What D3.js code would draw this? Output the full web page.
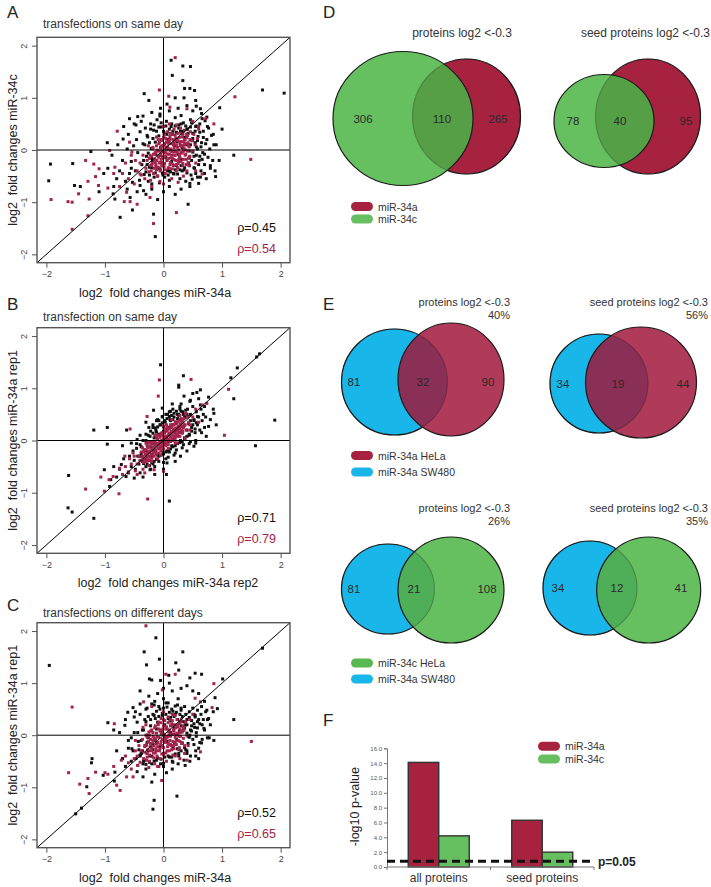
<!DOCTYPE html>
<html><head><meta charset="utf-8">
<script src="https://cdn.jsdelivr.net/npm/d3@7"></script>
<style>
body{margin:0;background:#fff}
svg{display:block}
text{font-family:"Liberation Sans",Arial,Helvetica,sans-serif}
</style>
</head><body>
<svg id="c" width="711" height="887"></svg>
<script>
// ---------- DATA (scatter values in hundredths of log2 units) ----------
const scatterTicks = [-2, -1, 0, 1, 2];
const rhoBlack = [0.45, 0.71, 0.52];
const rhoRed = [0.54, 0.79, 0.65];

const aBlackCore = [[-55,-22],[-51,8],[-48,-40],[-46,20],[-44,-5],[-41,-58],[-40,35],[-37,-28],[-35,12],[-33,-47],[-31,42],[-29,-12],[-27,25],[-26,-60],[-24,-33],[-22,50],[-21,3],[-19,-20],[-17,38],[-16,-52],[-14,15],[-13,-8],[-11,58],[-10,-35],[-8,27],[-7,-63],[-5,5],[-4,44],[-2,-25],[-1,-48],[1,33],[2,12],[4,-14],[5,55],[7,-40],[8,20],[10,-58],[11,0],[13,45],[14,-22],[16,30],[17,-45],[19,8],[20,62],[22,-30],[23,16],[25,-8],[26,48],[28,-55],[29,36],[31,-18],[32,4],[34,52],[35,-38],[37,24],[38,-60],[40,10],[41,40],[43,-25],[44,-2],[46,58],[47,-48],[49,18],[50,32],[52,-12],[53,-35],[55,45],[56,6],[58,-52],[59,26],[61,-20],[62,50],[64,-40],[65,14],[67,-5],[68,36],[70,-28],[71,56],[73,-55],[74,20],[76,-14],[77,42],[79,2],[80,-35],[82,28],[84,-20],[86,10],[-58,-45],[-53,-62],[-47,48],[-20,-65],[30,66],[60,-64],[-6,65],[45,-64],[66,60],[88,-40],[-62,2],[-38,55]];
const aBlackInner = [[-34,-20],[-32,10],[-30,-42],[-28,28],[-26,-6],[-24,-48],[-22,40],[-20,-34],[-18,22],[-16,48],[-14,-44],[-12,36],[-10,-50],[-8,44],[-6,-10],[-4,52],[-2,-44],[0,36],[2,-52],[4,46],[6,30],[8,-48],[10,40],[12,-42],[14,50],[16,36],[18,-46],[20,46],[22,34],[24,-46],[26,42],[28,-38],[30,50],[32,-40],[34,36],[36,-34],[38,46],[40,-44],[42,32],[44,-30],[46,44],[48,-20],[50,22],[52,-34],[54,36],[56,-10],[58,18],[60,-28],[62,34],[64,6],[66,-18],[68,24],[70,-8],[72,12],[46,10],[50,-4],[54,14],[58,2],[62,-12],[-28,-28],[-24,14],[-20,-16],[40,40],[48,52],[56,46],[30,-30],[20,-38],[10,-40],[-6,-36],[36,24],[44,-14]];
const aBlackOut = [[13,172],[33,161],[46,160],[15,143],[33,133],[36,118],[45,118],[53,114],[-33,108],[169,115],[206,109],[96,81],[56,84],[-44,64],[-96,14],[-124,-3],[-193,-27],[-155,-26],[-196,-59],[-152,-68],[-142,-70],[120,-10],[89,-51],[-86,-84],[-83,-94],[-53,-115],[-74,-129],[42,-104],[-14,-166],[-17,-123],[63,-52],[49,-56],[-57,-91],[-34,-78],[-69,21],[6,88],[-6,69],[74,63],[63,79],[-75,-40],[-65,-60],[-60,30],[-70,-20],[-80,-55],[-62,-75],[-45,-80],[-30,-85],[-20,-75],[-10,-95],[0,-80],[10,-70],[20,-85],[30,-75],[45,-70],[55,-45],[70,-45],[80,-30],[90,10],[85,30],[75,45],[65,70],[50,75],[40,85],[25,80],[10,75],[-5,80],[-20,72],[-35,65],[-50,50],[-68,45],[-88,-10],[-95,-35],[-102,-45],[-78,10],[-58,60],[95,-20],[100,40],[-25,95],[35,100],[55,95],[20,100],[-40,-68],[-55,-35],[-85,-70],[-110,-80]];
const aRedCore = [[-30,-35],[-28,-20],[-25,-42],[-23,-10],[-20,-28],[-18,5],[-17,-45],[-15,-18],[-13,-32],[-11,0],[-10,-50],[-8,12],[-7,-25],[-5,-38],[-4,20],[-2,-12],[-1,-30],[1,28],[2,-5],[3,-45],[5,15],[6,-20],[7,35],[8,-8],[10,-35],[11,22],[12,2],[13,-15],[15,30],[16,-28],[17,10],[18,40],[20,-10],[21,18],[22,-40],[24,5],[25,32],[26,-22],[28,12],[29,42],[30,-5],[32,25],[33,-30],[35,15],[36,38],[38,0],[39,-18],[41,28],[43,8],[45,-12],[46,35],[48,18],[50,-2],[52,30],[54,10],[-35,-10],[-32,-55],[-22,-58],[-12,25],[0,45],[10,50],[22,48],[40,-40],[55,-25],[-26,8],[-6,-60],[14,-55],[34,-50],[58,22],[60,40],[4,5],[19,-3],[-3,-2],[27,-12],[-9,-12],[23,22],[9,12],[31,8],[-14,-5],[37,20],[-40,-25],[-45,-40],[-38,-48],[44,-30],[14,-2],[-1,8]];
const aRedInner = [[-22,-30],[-20,-12],[-19,-25],[-18,2],[-16,-35],[-15,-18],[-14,-6],[-13,-28],[-12,8],[-11,-20],[-10,-2],[-9,-33],[-8,-14],[-7,15],[-6,-24],[-5,-8],[-4,4],[-3,-30],[-2,18],[-1,-16],[0,-4],[1,10],[2,-26],[3,-12],[4,22],[5,0],[6,-20],[7,6],[8,-34],[9,14],[10,-8],[11,26],[12,-24],[13,-2],[14,12],[15,-16],[16,20],[17,-30],[18,4],[19,-10],[20,28],[21,-20],[22,10],[23,-4],[24,18],[25,-26],[26,0],[27,24],[28,-14],[29,8],[30,-22],[31,16],[32,-6],[33,30],[34,-18],[35,4],[36,20],[37,-10],[38,12],[39,-28],[40,24],[41,-2],[42,14],[43,-16],[44,6],[-24,-16],[-21,-40],[-17,-8],[-12,-38],[-9,20],[-6,-40],[-3,8],[0,24],[3,-38],[6,16],[9,-16],[12,32],[15,-36],[18,-18],[21,22],[24,-34],[27,-8],[30,32],[33,-26],[36,10],[39,30],[42,-24],[45,20],[-2,-24],[4,-6],[10,18],[16,-4],[22,-28],[28,16],[34,-2],[8,2],[14,-10],[20,-2],[-8,-2],[-4,-18],[26,-18],[32,8],[18,14],[-14,-24],[1,-32],[38,-8],[11,-28]];
const aRedOut = [[20,177],[-7,115],[9,103],[122,102],[149,-18],[-156,-100],[-192,-95],[-163,-99],[-145,-84],[-129,-60],[-116,-51],[-133,-20],[-119,-27],[-110,-36],[-156,-152],[-129,-126],[-127,-94],[-111,-68],[-95,-73],[-79,36],[-67,-99],[-57,-99],[-45,-104],[-63,-81],[-23,-91],[-17,-141],[22,-120],[66,-46],[72,60],[86,50],[40,79],[11,82],[-83,-33],[-92,-1],[-54,-4],[-40,-46],[-60,-55],[-70,-45],[-50,-65],[-55,-10],[-65,-25],[-75,-70],[-85,-45],[-48,-20],[-58,15],[50,55],[60,45],[-20,-70],[0,-65],[25,-62],[55,-40]];

const bBlackCore = [[-55,-50],[-52,-20],[-50,-38],[-48,-55],[-46,-15],[-44,-30],[-42,-45],[-40,-8],[-38,-25],[-36,-40],[-35,0],[-33,-18],[-31,-35],[-30,-50],[-28,-5],[-26,-22],[-25,-38],[-23,8],[-21,-12],[-20,-30],[-18,-45],[-16,5],[-15,-18],[-13,20],[-11,-8],[-10,-28],[-8,12],[-6,-15],[-5,30],[-3,-2],[-1,-22],[0,18],[2,-8],[3,35],[5,5],[6,-20],[8,25],[9,-2],[11,40],[12,12],[14,-10],[15,30],[17,2],[18,45],[20,18],[21,-5],[23,35],[24,10],[26,50],[27,25],[29,0],[30,40],[32,15],[33,55],[35,28],[36,5],[38,45],[40,20],[41,60],[43,32],[44,10],[46,50],[48,25],[50,65],[52,38],[54,15],[56,55],[58,30],[60,45],[62,20],[64,60],[66,38],[68,50],[70,25],[-58,-30],[-45,2],[-30,12],[-12,38],[-2,45],[10,-22],[22,-18],[34,-8],[46,-2],[-22,-55],[-8,-40],[4,-35],[16,60],[28,65],[55,0],[72,45],[-40,-62],[-15,-50],[0,-42],[18,-28],[7,50],[-18,25]];
const bBlackInner = [[-30,0],[-28,-45],[-26,10],[-24,-48],[-22,18],[-20,-42],[-18,14],[-16,-40],[-14,24],[-12,-36],[-10,26],[-8,-30],[-6,30],[-4,-28],[-2,34],[0,-26],[2,38],[4,-22],[6,42],[8,-20],[10,46],[12,-16],[14,48],[16,-12],[18,52],[20,-10],[22,56],[24,-6],[26,48],[28,-4],[30,56],[32,-2],[34,50],[36,4],[38,58],[40,8],[42,46],[44,12],[46,38],[48,18],[50,30],[52,40],[54,22],[56,34],[58,46],[-8,38],[4,50],[16,40],[28,60],[40,50],[-18,30],[-2,46],[12,56],[24,42],[36,44],[-24,-2],[-12,16],[0,26],[12,38],[24,50],[-30,-20],[-34,-44],[8,-32],[20,-24],[32,-14],[44,-6],[-40,-30],[-38,-12]];
const bBlackOut = [[-5,145],[34,124],[26,106],[26,102],[57,92],[159,160],[164,166],[126,139],[115,120],[120,80],[190,39],[157,-10],[-119,20],[-96,25],[-96,-7],[-162,-67],[-163,-129],[-156,-137],[-119,-149],[-101,-56],[-92,-88],[10,-116],[77,83],[86,52],[73,8],[77,27],[-17,58],[-2,62],[-63,20],[-64,-69],[-72,-46],[-46,-6],[6,-43],[29,-30],[52,-11],[63,97],[46,77],[63,68],[-23,-56],[-80,-70],[-75,-55],[-68,-35],[-60,-62],[-55,-5],[-50,-72],[-40,10],[-35,-70],[-25,25],[-15,-65],[-10,40],[0,-55],[10,55],[20,-40],[30,70],[40,-20],[45,75],[55,-5],[60,80],[65,15],[70,65],[80,40],[85,60],[90,30],[-85,-50],[-70,-10],[-90,-75],[15,70],[35,85],[50,90],[-30,35],[5,-65]];
const bRedCore = [[-45,-45],[-42,-30],[-40,-38],[-38,-22],[-36,-32],[-34,-42],[-32,-18],[-30,-28],[-28,-36],[-27,-12],[-25,-22],[-23,-32],[-22,-5],[-20,-16],[-18,-26],[-17,-2],[-15,-12],[-13,-22],[-12,5],[-10,-6],[-8,-16],[-7,10],[-5,-2],[-3,-12],[-2,15],[0,2],[1,-8],[3,18],[4,6],[6,-4],[7,22],[9,10],[10,0],[12,25],[13,14],[15,4],[16,30],[18,18],[19,8],[21,32],[22,22],[24,12],[25,36],[27,26],[28,15],[30,38],[32,28],[33,18],[35,42],[37,30],[39,20],[41,45],[43,35],[-48,-58],[-35,-55],[-20,-40],[-5,-28],[8,-15],[20,-5],[-30,-5],[-15,10],[0,28],[14,40],[28,48],[45,20],[-50,-30],[-25,-48],[-10,-35],[5,30],[38,52]];
const bRedInner = [[-35,-30],[-34,-22],[-33,-36],[-31,-26],[-30,-18],[-29,-32],[-27,-24],[-26,-14],[-25,-30],[-23,-20],[-22,-10],[-21,-26],[-19,-16],[-18,-6],[-17,-22],[-15,-12],[-14,-2],[-13,-18],[-11,-8],[-10,2],[-9,-14],[-7,-4],[-6,6],[-5,-10],[-3,0],[-2,10],[-1,-6],[1,4],[2,14],[3,-2],[5,8],[6,18],[7,2],[9,12],[10,22],[11,6],[13,16],[14,26],[15,10],[17,20],[18,30],[19,14],[21,24],[22,34],[23,18],[25,28],[26,16],[27,22],[29,32],[30,20],[31,26],[33,36],[34,24],[-32,-40],[-28,-10],[-24,-38],[-20,-2],[-16,-30],[-12,6],[-8,-24],[-4,14],[0,-16],[4,22],[8,-8],[12,30],[16,0],[20,36],[24,8],[28,40],[32,14],[-36,-14],[-20,-34],[-4,-20],[12,-2],[28,8],[-12,-26],[4,-10],[20,4],[36,30],[-26,-4],[-10,10],[6,26],[22,10],[-18,-28],[-2,-8],[14,18],[30,42],[-30,-40],[0,8],[10,14],[18,22],[-6,-16],[24,20],[-14,-6],[8,0]];
const bRedOut = [[-7,116],[47,117],[-9,85],[111,98],[104,10],[-28,46],[-57,22],[-133,-93],[-101,-97],[-93,-75],[-76,-102],[-107,-70],[-86,-69],[-27,-112],[0,-59],[-32,-62],[-16,-56],[74,71],[66,68],[-66,-30],[-52,-24],[-75,-53],[-40,-38],[37,4],[23,-5],[-60,-60],[-55,-45],[-65,-50],[-70,-65],[-58,-35],[50,45],[55,60],[60,35],[-45,-65],[45,30]];

const cBlackCore = [[-52,-30],[-50,5],[-47,-45],[-45,25],[-43,-12],[-40,40],[-38,-35],[-36,10],[-34,-50],[-32,30],[-30,-20],[-28,52],[-26,-5],[-24,-40],[-22,18],[-20,60],[-18,-28],[-16,38],[-14,-10],[-12,-48],[-10,25],[-8,55],[-6,-22],[-4,8],[-2,42],[0,-35],[2,20],[4,62],[6,-12],[8,32],[10,-42],[12,5],[14,50],[16,-25],[18,15],[20,40],[22,-8],[24,58],[26,-35],[28,25],[30,48],[32,-15],[34,10],[36,55],[38,-28],[40,30],[42,-2],[44,45],[46,-40],[48,18],[50,52],[52,-18],[54,35],[56,5],[58,48],[60,-25],[62,22],[64,40],[66,-8],[68,30],[70,10],[72,45],[-55,-5],[-48,45],[-35,-55],[-15,65],[-5,-55],[15,-50],[35,-48],[55,-40],[75,30],[-42,-28],[-28,0],[-12,12],[3,-5],[11,28],[19,-15],[27,8],[37,20],[45,0],[53,15],[65,55],[78,-5],[-20,-55],[0,70],[25,70],[-30,50],[-60,-25]];
const cBlackInner = [[-36,-30],[-34,10],[-32,-48],[-30,26],[-28,-14],[-26,36],[-24,-52],[-22,30],[-20,-40],[-18,40],[-16,-50],[-14,32],[-12,46],[-10,-44],[-8,36],[-6,50],[-4,-46],[-2,38],[0,52],[2,-42],[4,40],[6,54],[8,-40],[10,44],[12,34],[14,-42],[16,46],[18,36],[20,-36],[22,44],[24,30],[26,-40],[28,40],[30,-30],[32,36],[34,26],[36,-24],[38,40],[40,20],[42,-16],[44,34],[46,10],[48,28],[50,-8],[52,22],[54,38],[56,-2],[58,14],[60,30],[62,-14],[44,-4],[48,8],[40,4],[36,14],[-38,-10],[-40,-40],[-44,5],[-30,-56],[20,56],[30,52],[-16,58],[8,62],[16,-52],[0,-54],[40,-30],[52,40],[58,26],[66,20],[30,18],[24,-26],[-26,-30]];
const cBlackOut = [[-195,134],[-13,187],[-33,160],[33,160],[-7,146],[21,139],[-29,135],[26,125],[54,119],[65,117],[-20,106],[-24,108],[101,108],[169,167],[120,30],[88,72],[92,51],[77,32],[69,13],[-95,24],[-66,19],[-61,44],[-52,53],[-122,-45],[-123,-53],[-103,-77],[-83,-71],[-84,-88],[-131,-99],[-140,-140],[-150,-151],[-16,-125],[-18,-142],[23,-117],[5,-72],[-54,-26],[-40,-38],[37,-58],[86,-10],[40,-35],[9,115],[74,48],[-80,-30],[-70,-45],[-60,-10],[-75,5],[-65,-60],[-55,-50],[-45,-70],[-30,-65],[-15,-75],[0,-60],[15,-65],[25,-55],[45,-50],[55,-30],[65,-15],[75,-5],[80,20],[70,65],[60,80],[50,85],[40,95],[30,90],[15,85],[0,90],[-10,80],[-25,75],[-40,60],[-50,35],[-65,30],[-85,10],[45,110],[-40,85],[10,100],[-5,105],[85,45],[60,-45],[-35,-80],[-20,-90]];
const cRedCore = [[-45,-40],[-42,-20],[-40,-52],[-38,-30],[-36,-8],[-34,-45],[-32,-22],[-30,0],[-28,-35],[-26,-12],[-24,-50],[-22,8],[-20,-25],[-18,-42],[-16,-5],[-14,18],[-12,-30],[-10,-15],[-8,25],[-6,-45],[-4,2],[-2,-20],[0,30],[2,-8],[4,12],[6,-30],[8,35],[10,0],[12,-18],[14,22],[16,-38],[18,8],[20,38],[22,-10],[24,20],[26,-28],[28,5],[30,30],[32,-15],[34,15],[36,-35],[38,25],[40,0],[-48,-10],[-44,-58],[-30,20],[-15,-55],[0,45],[15,40],[28,-45],[42,-20],[-25,-62],[-8,-60],[5,-50],[-35,15],[45,30],[-5,10],[7,-2],[-18,5],[17,-20],[-11,-3],[23,2]];
const cRedInner = [[-30,-34],[-29,-18],[-28,-4],[-27,-28],[-26,-12],[-25,6],[-24,-38],[-23,-22],[-22,-8],[-21,-30],[-20,10],[-19,-16],[-18,-2],[-17,-34],[-16,-20],[-15,14],[-14,-8],[-13,-26],[-12,4],[-11,-40],[-10,-14],[-9,20],[-8,-4],[-7,-30],[-6,8],[-5,-18],[-4,24],[-3,-36],[-2,-8],[-1,12],[0,-24],[1,2],[2,28],[3,-14],[4,-34],[5,16],[6,-4],[7,-22],[8,24],[9,6],[10,-30],[11,-10],[12,18],[13,-20],[14,2],[15,28],[16,-12],[17,10],[18,-26],[19,20],[20,-4],[21,14],[22,-18],[23,30],[24,4],[25,-10],[26,22],[27,-24],[28,12],[29,-2],[30,26],[31,-16],[32,6],[33,18],[34,-6],[35,10],[-32,-20],[-28,-42],[-24,0],[-20,-24],[-16,-44],[-12,-16],[-8,12],[-4,-12],[0,18],[4,-8],[8,-16],[12,-2],[16,20],[20,-14],[24,16],[28,-12],[-18,-10],[-10,-22],[-2,4],[6,12],[14,-28],[22,2],[30,8],[-6,-26],[2,-2],[10,10],[18,2],[26,-2],[-14,-34],[-22,-16],[0,-38],[12,30],[-4,32],[36,-20]];
const cRedOut = [[-30,210],[-156,54],[-84,22],[4,117],[20,117],[-2,87],[86,99],[150,-12],[-162,-72],[-143,-94],[-129,-83],[-127,-112],[-116,-71],[-100,-72],[-80,-96],[-74,-106],[-63,-80],[-52,-80],[-3,-87],[40,-48],[63,-32],[54,71],[63,64],[83,53],[-34,64],[-29,-48],[-44,-58],[-60,-53],[-72,-48],[-55,-65],[-65,-40],[-50,-45],[-85,-60],[-95,-75],[-48,-30],[50,40],[-20,55],[-10,-60],[20,-40]];

// Venn counts [left only, overlap, right only]
const dCounts = [[306,110,265],[78,40,95]];
const eTopCounts = [[81,32,90],[34,19,44]];
const eBotCounts = [[81,21,108],[34,12,41]];
const eTopPct = ["40%","56%"];
const eBotPct = ["26%","35%"];
const vennTitles = ["proteins log2 <-0.3","seed proteins log2 <-0.3"];

// Bar chart
const fCategories = ["all proteins","seed proteins"];
const fSeries = ["miR-34a","miR-34c"];
const fMiR34a = [14.1, 6.3];
const fMiR34c = [4.2, 2.0];
const fTicks = [0,2,4,6,8,10,12,14,16];
const fThreshold = 0.77;

// ---------- DRAWING ----------
const svg = d3.select("#c");
const RED = "#a3234b", BLK = "#111";
const toUnits = d => [d[0]/100, d[1]/100];
const MS = 3.0;

function letter(t, x, y){
  svg.append("text").attr("x",x).attr("y",y).attr("font-size",17).attr("fill","#222").text(t);
}

function scatter(cfg){
  const x = d3.scaleLinear().domain([-2.16,2.16]).range([37,290]);
  const y = d3.scaleLinear().domain([-2.16,2.16]).range([cfg.bottom,cfg.top]);
  const g = svg.append("g");
  const clipId = "clip"+cfg.letter;
  g.append("clipPath").attr("id",clipId).append("rect")
    .attr("x",37).attr("y",cfg.top).attr("width",253).attr("height",cfg.bottom-cfg.top);
  const pg = g.append("g").attr("clip-path",`url(#${clipId})`);
  pg.selectAll("rect.b").data(cfg.black.map(toUnits)).join("rect").attr("class","b")
    .attr("x",d=>x(d[0])-MS/2).attr("y",d=>y(d[1])-MS/2).attr("width",MS).attr("height",MS).attr("fill",BLK);
  pg.selectAll("rect.r").data(cfg.red.map(toUnits)).join("rect").attr("class","r")
    .attr("x",d=>x(d[0])-MS/2).attr("y",d=>y(d[1])-MS/2).attr("width",MS).attr("height",MS).attr("fill",RED);
  pg.append("line").attr("x1",x(0)).attr("x2",x(0)).attr("y1",cfg.top).attr("y2",cfg.bottom).attr("stroke","#000").attr("stroke-width",1);
  pg.append("line").attr("x1",37).attr("x2",290).attr("y1",y(0)).attr("y2",y(0)).attr("stroke","#000").attr("stroke-width",1);
  pg.append("line").attr("x1",x(-2.16)).attr("y1",y(-2.16)).attr("x2",x(2.16)).attr("y2",y(2.16)).attr("stroke","#000").attr("stroke-width",1);
  g.append("rect").attr("x",37).attr("y",cfg.top).attr("width",253).attr("height",cfg.bottom-cfg.top)
    .attr("fill","none").attr("stroke","#555").attr("stroke-width",1.4);
  const fmt = d3.format("d");
  g.append("g").attr("transform",`translate(0,${cfg.bottom})`)
    .call(d3.axisBottom(x).tickValues(scatterTicks).tickSize(5).tickPadding(3).tickFormat(fmt))
    .call(a=>{a.select(".domain").remove(); a.selectAll("line").attr("stroke","#555");
      a.selectAll("text").attr("font-size",9).attr("fill","#444").attr("font-family","Liberation Sans, Arial");});
  g.append("g").attr("transform",`translate(37,0)`)
    .call(d3.axisLeft(y).tickValues(scatterTicks).tickSize(5).tickFormat(fmt))
    .call(a=>{a.select(".domain").remove(); a.selectAll("line").attr("stroke","#555");
      a.selectAll("text").attr("font-size",9).attr("fill","#444").attr("font-family","Liberation Sans, Arial")
       .attr("transform","rotate(-90)").attr("x",0).attr("y",-10).attr("dy",0).attr("text-anchor","middle");});
  g.append("text").attr("x",43).attr("y",cfg.titleY).attr("font-size",12).attr("fill","#333").text(cfg.title);
  g.append("text").attr("x",cfg.xlabX).attr("y",cfg.bottom+34).attr("text-anchor","middle")
    .attr("font-size",12.5).attr("fill","#222").style("white-space","pre").text(cfg.xlab);
  const cy = (cfg.top+cfg.bottom)/2;
  g.append("text").attr("transform",`translate(16.5,${cy}) rotate(-90)`).attr("text-anchor","middle")
    .attr("font-size",12.5).attr("fill","#222").style("white-space","pre").text(cfg.ylab);
  g.append("text").attr("x",276).attr("y",cfg.bottom-31).attr("text-anchor","end").attr("font-size",12.5)
    .attr("fill","#111").text("ρ="+cfg.rho[0].toFixed(2));
  g.append("text").attr("x",276).attr("y",cfg.bottom-10).attr("text-anchor","end").attr("font-size",12.5)
    .attr("fill",RED).text("ρ="+cfg.rho[1].toFixed(2));
}

scatter({letter:"A",top:37.3,bottom:262.7,titleY:28,title:"transfections on same day",
  xlab:"log2  fold changes miR-34a",xlabX:155,ylab:"log2  fold changes miR-34c",
  rho:[rhoBlack[0],rhoRed[0]],black:aBlackCore.concat(aBlackInner,aBlackOut),red:aRedCore.concat(aRedInner,aRedOut)});
scatter({letter:"B",top:327.7,bottom:553.3,titleY:321,title:"transfection on same day",
  xlab:"log2  fold changes miR-34a rep2",xlabX:168,ylab:"log2  fold changes miR-34a rep1",
  rho:[rhoBlack[1],rhoRed[1]],black:bBlackCore.concat(bBlackInner,bBlackOut),red:bRedCore.concat(bRedInner,bRedOut)});
scatter({letter:"C",top:622.7,bottom:847.7,titleY:617,title:"transfections on different days",
  xlab:"log2  fold changes miR-34a",xlabX:155,ylab:"log2  fold changes miR-34a rep1",
  rho:[rhoBlack[2],rhoRed[2]],black:cBlackCore.concat(cBlackInner,cBlackOut),red:cRedCore.concat(cRedInner,cRedOut)});

letter("A",7,18); letter("B",7,310); letter("C",7,611);
letter("D",323,18); letter("E",323,310); letter("F",323,726);

// ---------- Venn ----------
let vid = 0;
function venn(L, R, counts, style, numX){
  vid++;
  const g = svg.append("g");
  const clip = "vclip"+vid;
  const other = style.topIsLeft ? R : L;
  g.append("clipPath").attr("id",clip).append("ellipse")
    .attr("cx",other.cx).attr("cy",other.cy).attr("rx",other.rx).attr("ry",other.ry);
  const bottomE = style.topIsLeft ? R : L, topE = style.topIsLeft ? L : R;
  const bottomC = style.topIsLeft ? style.right : style.left, topC = style.topIsLeft ? style.left : style.right;
  const ell = (e)=>g.append("ellipse").attr("cx",e.cx).attr("cy",e.cy).attr("rx",e.rx).attr("ry",e.ry);
  ell(bottomE).attr("fill",bottomC).attr("stroke","#1a1a1a").attr("stroke-width",1.2);
  ell(topE).attr("fill",topC).attr("stroke","none");
  ell(topE).attr("fill",style.overlap).attr("clip-path",`url(#${clip})`);
  ell(bottomE).attr("fill","none").attr("stroke","#1a1a1a").attr("stroke-width",1.1).attr("stroke-opacity",0.3);
  ell(topE).attr("fill","none").attr("stroke","#1a1a1a").attr("stroke-width",1.2);
  counts.forEach((c,i)=>{
    g.append("text").attr("x",numX[i]).attr("y",L.cy+4).attr("text-anchor","middle")
      .attr("font-size",11.5).attr("fill","#2a2a2a").text(c);
  });
}
function pill(x,y,color,label){
  svg.append("rect").attr("x",x).attr("y",y-4.5).attr("width",22).attr("height",9).attr("rx",4.5).attr("fill",color);
  svg.append("text").attr("x",x+27).attr("y",y+4).attr("font-size",10.5).attr("fill","#333").text(label);
}

const cRedD = "#a6223f", cGreen = "#67c060", cBlue = "#19b7e9", cRedE = "#b03a59";

// D
svg.append("text").attr("x",462).attr("y",37).attr("text-anchor","middle").attr("font-size",12).attr("fill","#333").text(vennTitles[0]);
svg.append("text").attr("x",710).attr("y",37).attr("text-anchor","end").attr("font-size",12).attr("fill","#333").text(vennTitles[1]);
venn({cx:403,cy:118.5,rx:70,ry:67},{cx:466.5,cy:116.5,rx:54,ry:57.5},dCounts[0],
  {left:cGreen,right:cRedD,overlap:"#569f47",topIsLeft:true},[363,442,498]);
venn({cx:604,cy:121,rx:50,ry:46.5},{cx:648,cy:116.5,rx:52.5,ry:57.5},dCounts[1],
  {left:cGreen,right:cRedD,overlap:"#55a046",topIsLeft:true},[573,620,686]);
pill(351,206.5,cRedD,"miR-34a");
pill(351,219,cGreen,"miR-34c");

// E top
[[510,0],[708,1]].forEach(([x,i])=>{
  svg.append("text").attr("x",x).attr("y",305.5).attr("text-anchor","end").attr("font-size",11).attr("fill","#333").text(vennTitles[i]);
  svg.append("text").attr("x",x).attr("y",318.5).attr("text-anchor","end").attr("font-size",11).attr("fill","#333").text(eTopPct[i]);
});
venn({cx:394.5,cy:382,rx:53,ry:53},{cx:451,cy:379.5,rx:53,ry:56.5},eTopCounts[0],
  {left:cBlue,right:cRedE,overlap:"#8a2f55",topIsLeft:false},[354,423,488]);
venn({cx:599,cy:383.5,rx:49,ry:49.5},{cx:641,cy:382.5,rx:55.5,ry:55.5},eTopCounts[1],
  {left:cBlue,right:cRedE,overlap:"#8a2f55",topIsLeft:false},[563,618,683]);
pill(351,455.5,cRedD,"miR-34a HeLa");
pill(351,472,cBlue,"miR-34a SW480");

// E bottom
[[510,0],[708,1]].forEach(([x,i])=>{
  svg.append("text").attr("x",x).attr("y",511.5).attr("text-anchor","end").attr("font-size",11).attr("fill","#333").text(vennTitles[i]);
  svg.append("text").attr("x",x).attr("y",524.5).attr("text-anchor","end").attr("font-size",11).attr("fill","#333").text(eBotPct[i]);
});
venn({cx:388,cy:589,rx:46.5,ry:45},{cx:451,cy:590,rx:53,ry:53},eBotCounts[0],
  {left:cBlue,right:cGreen,overlap:"#4fae58",topIsLeft:false},[354,414,487]);
venn({cx:590,cy:588,rx:47,ry:47},{cx:648.7,cy:590,rx:52,ry:53},eBotCounts[1],
  {left:cBlue,right:cGreen,overlap:"#4fae58",topIsLeft:false},[558,617,681]);
pill(351,663,"#5ab852","miR-34c HeLa");
pill(351,679,cBlue,"miR-34a SW480");

// ---------- F bar chart ----------
{
  const g = svg.append("g");
  const y = d3.scaleLinear().domain([0,16]).range([867,748.3]);
  const x0 = d3.scaleBand().domain(fCategories).range([387,594]);
  const x1 = d3.scaleBand().domain(fSeries).range([0,61]);
  const vals = {"miR-34a":fMiR34a,"miR-34c":fMiR34c};
  const colors = {"miR-34a":"#a6223f","miR-34c":"#67c060"};
  const off = (x0.bandwidth()-61)/2;
  fCategories.forEach((c,ci)=>{
    fSeries.forEach(s=>{
      const v = vals[s][ci];
      g.append("rect").attr("x",x0(c)+off+x1(s)).attr("y",y(v)).attr("width",x1.bandwidth())
        .attr("height",y(0)-y(v)).attr("fill",colors[s]).attr("stroke","#333").attr("stroke-width",1.4);
    });
  });
  g.append("g").attr("transform","translate(387,0)")
    .call(d3.axisLeft(y).tickValues(fTicks).tickSize(3).tickPadding(2).tickFormat(d3.format(".1f")))
    .call(a=>{a.select(".domain").attr("stroke","#777"); a.selectAll("line").attr("stroke","#777");
      a.selectAll("text").attr("font-size",6).attr("fill","#555");});
  g.append("g").attr("transform","translate(0,867)")
    .call(d3.axisBottom(x0).tickSize(0).tickPadding(6))
    .call(a=>{a.select(".domain").attr("stroke","#777").attr("d","M387,0H594");
      a.selectAll("text").attr("font-size",12).attr("fill","#333").attr("font-family","Liberation Sans, Arial");});
  [x0.range()[0], x0(fCategories[1]), x0.range()[1]].forEach(px=>{
    g.append("line").attr("x1",px).attr("x2",px).attr("y1",867).attr("y2",870).attr("stroke","#777");
  });
  g.append("line").attr("x1",387).attr("x2",592).attr("y1",y(fThreshold)).attr("y2",y(fThreshold))
    .attr("stroke","#111").attr("stroke-width",3).attr("stroke-dasharray","8,5");
  g.append("text").attr("x",598).attr("y",y(fThreshold)+4.5).attr("font-size",12).attr("font-weight","bold")
    .attr("fill","#222").text("p=0.05");
  g.append("text").attr("transform","translate(359,806.7) rotate(-90)").attr("text-anchor","middle")
    .attr("font-size",12.5).attr("fill","#222").text("-log10 p-value");
  pill(538,746.2,colors["miR-34a"],"miR-34a");
  pill(538,759,colors["miR-34c"],"miR-34c");
}
</script>
</body></html>
